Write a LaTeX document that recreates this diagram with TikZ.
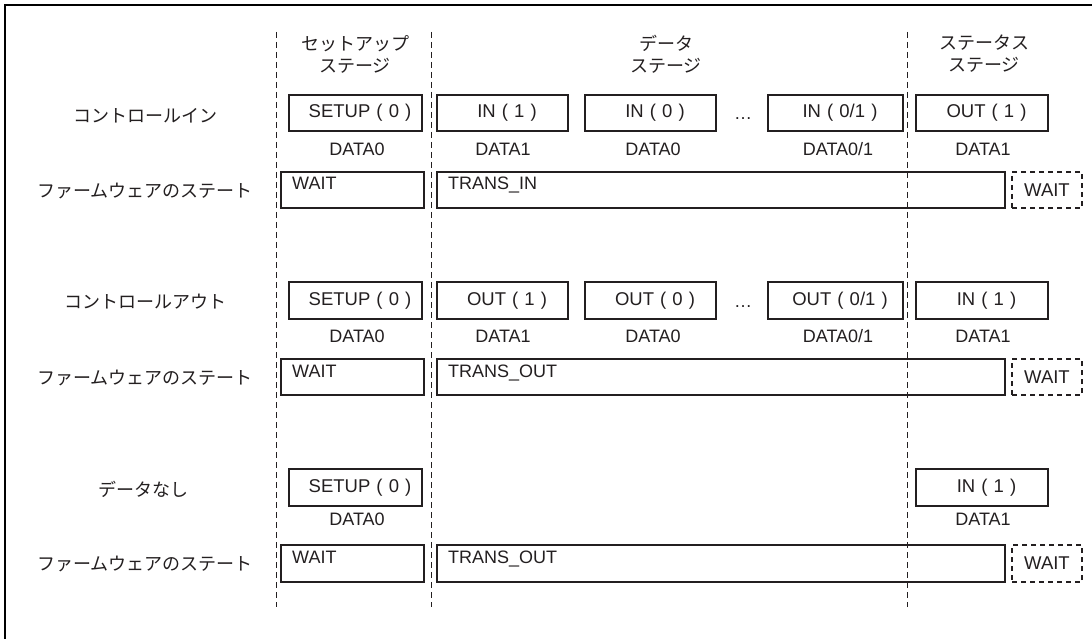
\documentclass[tikz,border=0pt]{standalone}
\usepackage{fontspec}
\setmainfont{Liberation Sans}
\newfontfamily\jp{Noto Sans CJK JP}
\definecolor{ink}{HTML}{231F20}
\newcommand\gapsp{\hspace{0.33em}}
% packet box: name, x1, y1, x2, y2, text
\newcommand\pkt[6]{\node[pkt, minimum width={(#4-#2)*1pt}, minimum height={(#5-#3)*1pt}] (#1) at ({(#2+#4)/2},{(#3+#5)/2}) {\hspace*{9pt}#6};}
% state box: name, x1, y1, x2, y2, text
\newcommand\stbox[6]{\node[stb, minimum width={(#4-#2)*1pt}, minimum height={(#5-#3)*1pt}] (#1) at ({(#2+#4)/2},{(#3+#5)/2}) {};
\node[lbl, anchor=base west] (#1t) at ({#2+11},{#3+18}) {#6};}
% dashed wait box: name, x1, y1, x2, y2
\newcommand\wtbox[5]{\node[wtb, minimum width={(#4-#2)*1pt}, minimum height={(#5-#3)*1pt}] (#1) at ({(#2+#4)/2},{(#3+#5)/2}) {WAIT};}
\begin{document}
\begin{tikzpicture}[x=1pt,y=-1pt,
  font=\fontsize{18}{21}\selectfont,
  pkt/.style={draw=ink, line width=2.4pt, inner sep=0pt, text=ink, font=\fontsize{18.5}{21}\selectfont},
  stb/.style={draw=ink, line width=2.4pt, inner sep=0pt},
  wtb/.style={draw=ink, line width=2.2pt, dash pattern=on 5pt off 4pt, inner sep=0pt, text=ink, font=\fontsize{18.5}{21}\selectfont},
  lbl/.style={text=ink, inner sep=0pt},
  jl/.style={font=\jp\fontsize{18}{22}\selectfont, text=ink, inner sep=0pt, align=center},
  divider/.style={draw=ink, line width=0.9pt, dash pattern=on 6pt off 4pt}]
\useasboundingbox (0,0) rectangle (1092,639);
% frame
\draw[line width=2.6pt] (5,639) -- (5,5) -- (1092,5);
% stage dividers
\coordinate (v1t) at (276,32); \coordinate (v1b) at (276,607);
\coordinate (v2t) at (431,32); \coordinate (v2b) at (431,607);
\coordinate (v3t) at (907,32); \coordinate (v3b) at (907,607);
\draw[divider] (v1t) -- (v1b);
\draw[divider] (v2t) -- (v2b);
\draw[divider] (v3t) -- (v3b);
% headers
\node[jl] (hsetup) at (355,54) {セットアップ\\ステージ};
\node[jl] (hdata) at (666,54) {データ\\ステージ};
\node[jl] (hstatus) at (984,54) {ステータス\\ステージ};
% row labels
\node[jl] (r1) at (145,116) {コントロールイン};
\node[jl] (r1s) at (145,191) {ファームウェアのステート};
\node[jl] (r2) at (145,302) {コントロールアウト};
\node[jl] (r2s) at (145,378) {ファームウェアのステート};
\node[jl] (r3) at (143,489) {データなし};
\node[jl] (r3s) at (145,564) {ファームウェアのステート};
% ---- row 1: control in
\pkt{a1}{289}{95}{422}{131}{SETUP\gapsp(\gapsp0\gapsp)}
\pkt{a2}{437}{95}{568}{131}{IN\gapsp(\gapsp1\gapsp)}
\pkt{a3}{585}{95}{716}{131}{IN\gapsp(\gapsp0\gapsp)}
\pkt{a4}{768}{95}{903}{131}{IN\gapsp(\gapsp0/1\gapsp)}
\pkt{a5}{916}{95}{1048}{131}{OUT\gapsp(\gapsp1\gapsp)}
\node[lbl] (a1d) at (357,149) {DATA0};
\node[lbl] (a2d) at (503,149) {DATA1};
\node[lbl] (a3d) at (653,149) {DATA0};
\node[lbl] (a4d) at (838,149) {DATA0/1};
\node[lbl] (a5d) at (983,149) {DATA1};
\node[lbl] (a6) at (743,119) {…};
\stbox{as1}{281}{172}{424}{208}{WAIT}
\stbox{as2}{437}{172}{1005}{208}{TRANS\_IN}
\wtbox{as3}{1012}{172}{1082}{208}
% ---- row 2: control out
\pkt{b1}{289}{282}{422}{319}{SETUP\gapsp(\gapsp0\gapsp)}
\pkt{b2}{437}{282}{568}{319}{OUT\gapsp(\gapsp1\gapsp)}
\pkt{b3}{585}{282}{716}{319}{OUT\gapsp(\gapsp0\gapsp)}
\pkt{b4}{768}{282}{903}{319}{OUT\gapsp(\gapsp0/1\gapsp)}
\pkt{b5}{916}{282}{1048}{319}{IN\gapsp(\gapsp1\gapsp)}
\node[lbl] (b1d) at (357,336) {DATA0};
\node[lbl] (b2d) at (503,336) {DATA1};
\node[lbl] (b3d) at (653,336) {DATA0};
\node[lbl] (b4d) at (838,336) {DATA0/1};
\node[lbl] (b5d) at (983,336) {DATA1};
\node[lbl] (b6) at (743,307) {…};
\stbox{bs1}{281}{359}{424}{395}{WAIT}
\stbox{bs2}{437}{359}{1005}{395}{TRANS\_OUT}
\wtbox{bs3}{1012}{359}{1082}{395}
% ---- row 3: no data
\pkt{c1}{289}{469}{422}{506}{SETUP\gapsp(\gapsp0\gapsp)}
\pkt{c5}{916}{469}{1048}{506}{IN\gapsp(\gapsp1\gapsp)}
\node[lbl] (c1d) at (357,519) {DATA0};
\node[lbl] (c5d) at (983,519) {DATA1};
\stbox{cs1}{281}{545}{424}{582}{WAIT}
\stbox{cs2}{437}{545}{1005}{582}{TRANS\_OUT}
\wtbox{cs3}{1012}{545}{1082}{582}
\end{tikzpicture}
\end{document}
